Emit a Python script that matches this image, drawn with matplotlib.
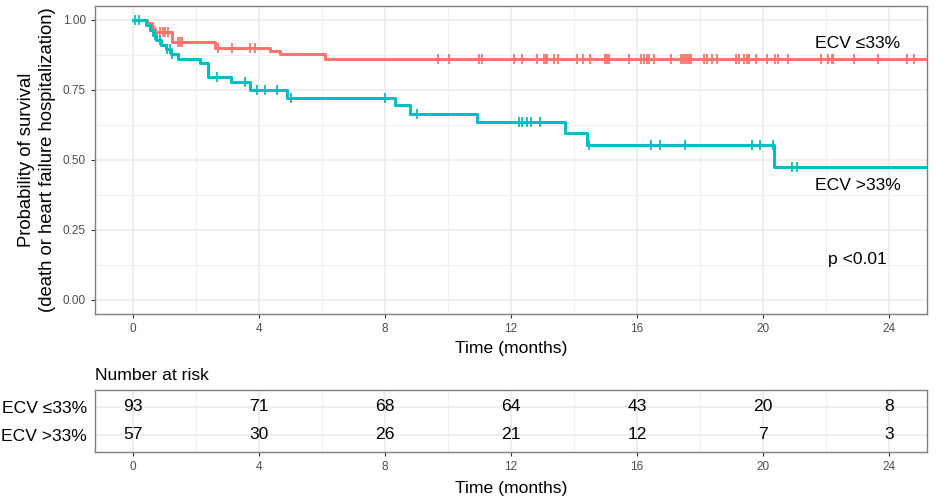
import numpy as np
import matplotlib.pyplot as plt
from matplotlib.ticker import MultipleLocator

plt.rcParams['font.family'] = ['Liberation Sans', 'DejaVu Sans']

# Kaplan-Meier steps
low_times = [0, 0.45, 0.60, 0.65, 0.70, 1.23, 2.62, 4.35, 4.67, 6.10]
low_surv = [1.0, 0.989, 0.978, 0.967, 0.956, 0.923, 0.901, 0.889, 0.877, 0.862]
low_cens = [0.86, 0.96, 1.02, 1.12, 1.43, 1.50, 1.55, 2.70, 3.16, 3.71, 3.87,
            9.68, 10.02, 11.0, 11.08, 12.11, 12.36, 12.81, 13.06, 13.11, 13.14,
            13.37, 13.48, 14.09, 14.29, 14.51, 14.98, 15.04, 15.12, 15.76, 16.12,
            16.21, 16.30, 16.38, 16.55, 17.08, 17.38, 17.46, 17.53, 17.57, 17.64,
            17.72, 18.11, 18.22, 18.39, 18.55, 19.13, 19.22, 19.39, 19.50, 19.56,
            19.78, 20.11, 20.39, 20.47, 20.78, 21.84, 22.07, 22.18, 22.23, 22.90,
            23.66, 24.58, 24.78]

high_times = [0, 0.43, 0.54, 0.65, 0.75, 0.90, 1.05, 1.20, 1.44, 2.13, 2.39,
              3.13, 3.71, 4.88, 8.32, 8.79, 10.91, 13.72, 14.40, 20.34]
high_surv = [1.0, 0.982, 0.965, 0.947, 0.930, 0.912, 0.895, 0.877, 0.861, 0.845,
             0.798, 0.777, 0.751, 0.723, 0.695, 0.665, 0.636, 0.596, 0.553, 0.474]
high_cens = [0.08, 0.19, 0.70, 0.86, 1.07, 1.17, 1.23, 2.68, 3.56, 3.93, 4.19,
             4.58, 5.02, 8.0, 9.01, 12.25, 12.36, 12.51, 12.64, 12.92, 14.46,
             16.43, 16.73, 17.51, 19.64, 19.90, 20.32, 20.91, 21.07]

follow_up_end = 25.5

groups = ['ECV \u226433%', 'ECV >33%']
colors = ['#F8766D', '#00BFC4']

risk_times = [0, 4, 8, 12, 16, 20, 24]
risk_low = [93, 71, 68, 64, 43, 20, 8]
risk_high = [57, 30, 26, 21, 12, 7, 3]

fig = plt.figure(figsize=(9.39, 5.0), dpi=100)
ax = fig.add_axes([0.1012, 0.372, 0.886, 0.616])
axt = fig.add_axes([0.1012, 0.0966, 0.886, 0.1234])

grey_txt = '#4D4D4D'
fs = 12.6


def style(a):
    a.set_facecolor('white')
    for s in a.spines.values():
        s.set_color('#7F7F7F')
        s.set_linewidth(1.0)
    a.grid(True, which='major', color='#EBEBEB', linewidth=1.1)
    a.grid(True, which='minor', color='#F0F0F0', linewidth=0.8)
    a.set_axisbelow(True)
    a.tick_params(axis='both', which='major', length=3, color='#333333',
                  labelsize=8.5, labelcolor=grey_txt, width=0.8)
    a.tick_params(axis='both', which='minor', length=0)
    a.xaxis.set_major_locator(MultipleLocator(4))
    a.xaxis.set_minor_locator(MultipleLocator(2))
    a.set_xlim(-1.2, 25.2)


style(ax)
style(axt)

for times, surv, cens, col in [(low_times, low_surv, low_cens, colors[0]),
                               (high_times, high_surv, high_cens, colors[1])]:
    t = np.array(times + [follow_up_end])
    s = np.array(surv + [surv[-1]])
    ax.step(t, s, where='post', color=col, linewidth=2.2, zorder=3)
    idx = np.searchsorted(np.array(times), np.array(cens), side='right') - 1
    ax.plot(cens, np.array(surv)[idx], linestyle='none', marker='|',
            markersize=7, markeredgewidth=1.3, color=col, zorder=4)

ax.set_ylim(-0.05, 1.05)
ax.yaxis.set_minor_locator(MultipleLocator(0.125))
ax.set_yticks([0, 0.25, 0.5, 0.75, 1.0])
ax.set_yticklabels(['0.00', '0.25', '0.50', '0.75', '1.00'])
ax.set_xlabel('Time (months)', fontsize=fs, labelpad=4)
ax.set_ylabel('Probability of survival\n(death or heart failure hospitalization)',
              fontsize=13.3, labelpad=5, linespacing=1.3)

ax.text(23.0, 0.915, groups[0], fontsize=fs, ha='center', va='center')
ax.text(23.0, 0.41, groups[1], fontsize=fs, ha='center', va='center')
ax.text(23.0, 0.146, 'p <0.01', fontsize=fs, ha='center', va='center')

# number at risk table
axt.set_ylim(0.4, 2.6)
axt.set_yticks([2, 1])
axt.set_yticklabels(groups)
axt.tick_params(axis='y', length=0, pad=6, labelsize=fs, labelcolor='black')
axt.yaxis.set_minor_locator(MultipleLocator(10))
for tt, a, b in zip(risk_times, risk_low, risk_high):
    axt.text(tt, 2, str(a), ha='center', va='center', fontsize=fs)
    axt.text(tt, 1, str(b), ha='center', va='center', fontsize=fs)
axt.set_xlabel('Time (months)', fontsize=fs, labelpad=6)
axt.set_title('Number at risk', loc='left', fontsize=fs, pad=7, x=0.0)

fig.savefig('out.png', dpi=100)
